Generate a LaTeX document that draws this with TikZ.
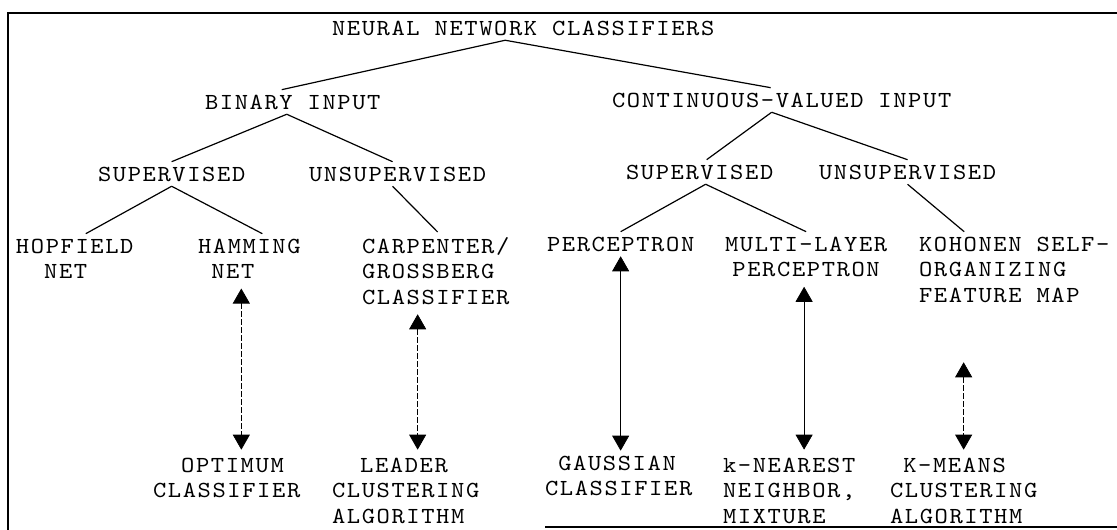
\documentclass[tikz,border=0pt]{standalone}
\usepackage{fontspec}
\setmonofont{lmmono10-regular.otf}[FakeStretch=1.1,LetterSpace=7]
\usetikzlibrary{arrows.meta}

\tikzset{
  lbl/.style={font=\ttfamily\fontsize{23}{25.5}\selectfont, inner sep=0pt,
    outer sep=5pt, anchor=base west, align=left},
  link/.style={line width=1.2pt},
  dual/.style={{Triangle[width=17pt,length=15pt]}-{Triangle[width=17pt,length=15pt]},
    line width=0.7pt, shorten <=5pt, shorten >=3pt},
  faint/.style={dash pattern=on 6pt off 2pt}
}

\begin{document}
\begin{tikzpicture}[x=1pt,y=-1pt]
  \useasboundingbox (0,0) rectangle (1117,530);
  % frame
  \draw[line width=1.8pt] (8,530) -- (8,13);
  \draw[line width=2.5pt] (7,13) -- (1117,13);
  \draw[line width=2pt] (545,527) -- (1117,527);

  % root and input type
  \node[lbl] (top) at (327,35) {NEURAL NETWORK CLASSIFIERS};
  \node[lbl] (binary) at (200,109) {BINARY INPUT};
  \node[lbl] (contin) at (607,107) {CONTINUOUS-VALUED INPUT};
  % training
  \node[lbl] (supbin) at (93,181) {SUPERVISED};
  \node[lbl] (unsupbin) at (304,181) {UNSUPERVISED};
  \node[lbl] (supcont) at (621,179) {SUPERVISED};
  \node[lbl] (unsupcont) at (814,179) {UNSUPERVISED};
  % networks (base = last line)
  \node[lbl] (hopfield) at (11,278.5) {HOPFIELD\\\phantom{XX}NET};
  \node[lbl] (hamming) at (193,278.5) {HAMMING\\\phantom{X}NET};
  \node[lbl] (carpenter) at (357,304) {CARPENTER/\\GROSSBERG\\CLASSIFIER};
  \node[lbl] (perceptron) at (542,251) {PERCEPTRON};
  \node[lbl,align=center] (multilayer) at (720,276.5) {MULTI-LAYER\\PERCEPTRON};
  \node[lbl] (kohonen) at (914,302) {KOHONEN SELF-\\ORGANIZING\\FEATURE MAP};
  % classical counterparts
  \node[lbl] (optimum) at (148,497.5) {\phantom{XX}OPTIMUM\\CLASSIFIER};
  \node[lbl] (leader) at (327,523) {\phantom{XX}LEADER\\CLUSTERING\\ALGORITHM};
  \node[lbl] (gaussian) at (540,495.5) {\phantom{X}GAUSSIAN\\CLASSIFIER};
  \node[lbl] (knearest) at (718,523) {k-NEAREST\\NEIGHBOR,\\MIXTURE};
  \node[lbl] (kmeans) at (885,523) {\phantom{X}K-MEANS\\CLUSTERING\\ALGORITHM};

  % tree
  \draw[link] ([xshift=-18pt]top.south) -- ([xshift=-11pt]binary.north);
  \draw[link] ([xshift=-18pt]top.south) -- ([xshift=-11pt]contin.north);
  \draw[link] ([xshift=-6pt]binary.south) -- (supbin.north);
  \draw[link] ([xshift=-6pt]binary.south) -- ([xshift=-5pt]unsupbin.north);
  \draw[link] ([xshift=-10pt]contin.south) -- ([xshift=7pt]supcont.north);
  \draw[link] ([xshift=-10pt]contin.south) -- (unsupcont.north);
  \draw[link] (supbin.south) -- ([xshift=11pt]hopfield.north);
  \draw[link] (supbin.south) -- ([xshift=13pt]hamming.north);
  \draw[link] ([xshift=-5pt]unsupbin.south) -- ([xshift=2pt]carpenter.north);
  \draw[link] ([xshift=6pt]supcont.south) -- (perceptron.north);
  \draw[link] ([xshift=6pt]supcont.south) -- (multilayer.north);
  \draw[link] (unsupcont.south) -- ([xshift=-50pt]kohonen.north);

  % equivalences
  \draw[dual,faint] ([xshift=-8pt]hamming.south) -- ([xshift=-8pt]hamming.south |- optimum.north);
  \draw[dual,faint] ([xshift=-18pt]carpenter.south) -- ([xshift=-18pt]carpenter.south |- leader.north);
  \draw[dual,shorten <=0pt,shorten >=0pt] (perceptron.south) -- (perceptron.south |- gaussian.north);
  \draw[dual] ([xshift=-2pt]multilayer.south) -- ([xshift=-2pt]multilayer.south |- knearest.north);
  \draw[dual,faint,shorten <=55pt] (kmeans.north |- kohonen.south) -- (kmeans.north);
\end{tikzpicture}
\end{document}
